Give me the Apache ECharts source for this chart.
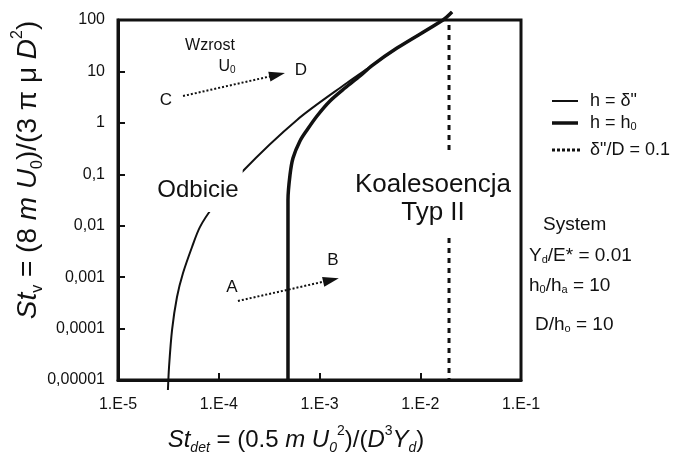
<!DOCTYPE html>
<html><head><meta charset="utf-8">
<script src="https://cdn.jsdelivr.net/npm/echarts/dist/echarts.min.js"></script>
<style>html,body{margin:0;padding:0;background:#fff}#c{width:681px;height:459px}</style>
</head><body><div id="c"></div>
<script>
// ---- data ----
const xTickLabels = ['1.E-5', '1.E-4', '1.E-3', '1.E-2', '1.E-1'];
const yTickLabels = ['0,00001', '0,0001', '0,001', '0,01', '0,1', '1', '10', '100'];

// h = δ" (thin curve)
const thinX = [3.13e-5, 3.21e-5, 3.44e-5, 3.85e-5, 4.42e-5, 5.43e-5, 6.5e-5, 8.77e-5, 1.70e-4, 5.98e-4, 1.87e-3, 3.32e-3, 5.88e-3, 0.01681, 0.02066];
const thinY = [6.4e-6, 1.79e-5, 9.4e-5, 4.1e-4, 1.2e-3, 3.86e-3, 9.4e-3, 0.0231, 0.111, 1.14, 5.95, 13.0, 28.5, 100, 143];

// h = h0 (thick curve)
const thickX = [4.866e-4, 4.866e-4, 4.866e-4, 5.095e-4, 5.46e-4, 6.40e-4, 7.52e-4, 9.45e-4, 1.271e-3, 1.791e-3, 2.523e-3, 3.32e-3, 5.88e-3, 0.01681, 0.02066];
const thickY = [1e-5, 5.28e-3, 0.0316, 0.0968, 0.2073, 0.4437, 0.726, 1.359, 2.66, 4.76, 8.14, 13.0, 28.5, 100, 143];

// δ"/D = 0.1 (dotted vertical), broken around the label
const limitX = 0.0193;
const limitY = [80, 0.237, NaN, 5.77e-3, 1e-5];

// arrows (start, end)
const arrowAB = [[1.55e-4, 3.44e-4], [1.30e-3, 8.8e-4]];
const arrowCD = [[4.42e-5, 3.33], [3.80e-4, 8.6]];

// ---- chart ----
const FF = 'Liberation Sans, Arial, Helvetica, sans-serif';
const INK = '#111';
const chart = echarts.init(document.getElementById('c'), null, {renderer: 'canvas'});

function txt(x, y, text, size, extra) {
  return Object.assign({
    type: 'text', x: x, y: y, z: 10,
    style: Object.assign({
      text: text, fontSize: size, fontFamily: FF, fill: INK,
      align: 'center', verticalAlign: 'middle',
      rich: {
        sub: {fontSize: Math.round(size * 0.6), lineHeight: Math.round(size * 0.6), verticalAlign: 'bottom', fontFamily: FF, fill: INK},
        n: {fontSize: size, lineHeight: Math.round(size * 1.25), fontFamily: FF, fill: INK}
      }
    }, extra || {})
  });
}

const richBig = function (size) {
  const s = Math.round(size * 0.58);
  return {
    n: {fontSize: size, lineHeight: Math.round(size * 1.3), fontFamily: FF, fill: INK},
    it: {fontSize: size, lineHeight: Math.round(size * 1.3), fontStyle: 'italic', fontFamily: FF, fill: INK},
    sub: {fontSize: s, lineHeight: s, verticalAlign: 'bottom', fontFamily: FF, fill: INK},
    subi: {fontSize: s, lineHeight: s, verticalAlign: 'bottom', fontStyle: 'italic', fontFamily: FF, fill: INK},
    sup: {fontSize: s, lineHeight: s, verticalAlign: 'top', fontFamily: FF, fill: INK}
  };
};

const option = {
  backgroundColor: '#fff',
  animation: false,
  grid: {left: 118, right: 160, top: 20, bottom: 79, show: true, borderColor: INK, borderWidth: 3, containLabel: false, outerBoundsMode: 'none'},
  xAxis: {
    type: 'log', logBase: 10, min: 1e-5, max: 0.1,
    axisLine: {show: true, lineStyle: {color: INK, width: 3}},
    axisTick: {show: true, inside: true, length: 7, lineStyle: {color: INK, width: 2}},
    minorTick: {show: false}, splitLine: {show: false}, minorSplitLine: {show: false},
    axisLabel: {margin: 17, fontSize: 16, color: INK, fontFamily: FF,
      formatter: function (v) { return xTickLabels[Math.round(Math.log10(v)) + 5]; }}
  },
  yAxis: {
    type: 'log', logBase: 10, min: 1e-5, max: 100,
    axisLine: {show: true, lineStyle: {color: INK, width: 3}},
    axisTick: {show: true, inside: true, length: 7, lineStyle: {color: INK, width: 2}},
    minorTick: {show: false}, splitLine: {show: false}, minorSplitLine: {show: false},
    axisLabel: {margin: 13, fontSize: 16, color: INK, fontFamily: FF,
      formatter: function (v) { return yTickLabels[Math.round(Math.log10(v)) + 5]; }}
  },
  series: [
    {
      type: 'line', name: 'h = δ"', data: thinX.map(function (x, i) { return [x, thinY[i]]; }),
      symbol: 'none', showSymbol: false, smooth: 0.3, clip: false,
      lineStyle: {color: INK, width: 2}, z: 3
    },
    {
      type: 'line', name: 'h = h0', data: thickX.map(function (x, i) { return [x, thickY[i]]; }),
      symbol: 'none', showSymbol: false, smooth: 0.3, clip: false,
      lineStyle: {color: INK, width: 3.5}, z: 3
    },
    {
      type: 'line', name: 'δ"/D = 0.1', data: limitY.map(function (y) { return [limitX, isNaN(y) ? '-' : y]; }),
      symbol: 'none', showSymbol: false, connectNulls: false,
      lineStyle: {color: INK, width: 3, type: [5, 5]}, z: 2
    },
    {
      type: 'lines', coordinateSystem: 'cartesian2d', polyline: false, z: 4,
      data: [{coords: arrowAB}, {coords: arrowCD}],
      symbol: ['none', 'triangle'], symbolSize: [4, [10, 16]],
      lineStyle: {color: INK, width: 2, type: 'dotted', opacity: 1, curveness: 0},
      effect: {show: false}
    }
  ],
  graphic: {elements: [
    // axis titles
    {type: 'text', x: 28, y: 170, rotation: Math.PI / 2, z: 10, style: {
      text: '{it|St}{sub|v}{n| = (8 }{it|m U}{sub|0}{n|)/(3 π μ }{it|D}{sup|2}{n|)}',
      fontSize: 28, fontFamily: FF, fill: INK, align: 'center', verticalAlign: 'middle', rich: richBig(28)}},
    {type: 'text', x: 296, y: 440, z: 10, style: {
      text: '{it|St}{subi|det}{n| = (0.5 }{it|m U}{subi|0}{sup|2}{n|)/(}{it|D}{sup|3}{it|Y}{subi|d}{n|)}',
      fontSize: 24, fontFamily: FF, fill: INK, align: 'center', verticalAlign: 'middle', rich: richBig(24)}},
    // region labels
    txt(198, 190, 'Odbicie', 24, {backgroundColor: '#fff', padding: [10, 4, 10, 4]}),
    txt(433, 199, 'Koalesoencja\nTyp II', 26, {lineHeight: 28}),
    // arrow labels
    txt(232, 287, 'A', 17), txt(333, 260, 'B', 17), txt(166, 100, 'C', 17), txt(301, 70, 'D', 17),
    txt(210, 46, 'Wzrost', 16), txt(227, 67, 'U{sub|0}', 16),
    // legend
    {type: 'line', z: 10, shape: {x1: 552, y1: 101, x2: 578, y2: 101}, style: {stroke: INK, lineWidth: 2}},
    {type: 'line', z: 10, shape: {x1: 552, y1: 123, x2: 578, y2: 123}, style: {stroke: INK, lineWidth: 3.5}},
    {type: 'line', z: 10, shape: {x1: 552, y1: 150, x2: 581, y2: 150}, style: {stroke: INK, lineWidth: 3, lineDash: [3, 2]}},
    txt(590, 101, 'h = δ"', 18, {align: 'left'}),
    txt(590, 123, 'h = h{sub|0}', 18, {align: 'left'}),
    txt(590, 150, 'δ"/D = 0.1', 18, {align: 'left'}),
    // system parameters
    txt(543, 225, 'System', 19, {align: 'left'}),
    txt(529, 256, 'Y{sub|d}/E* = 0.01', 19, {align: 'left'}),
    txt(529, 286, 'h{sub|0}/h{sub|a} = 10', 19, {align: 'left'}),
    txt(535, 325, 'D/h{sub|o} = 10', 19, {align: 'left'})
  ]}
};
chart.setOption(option);
</script>
</body></html>
